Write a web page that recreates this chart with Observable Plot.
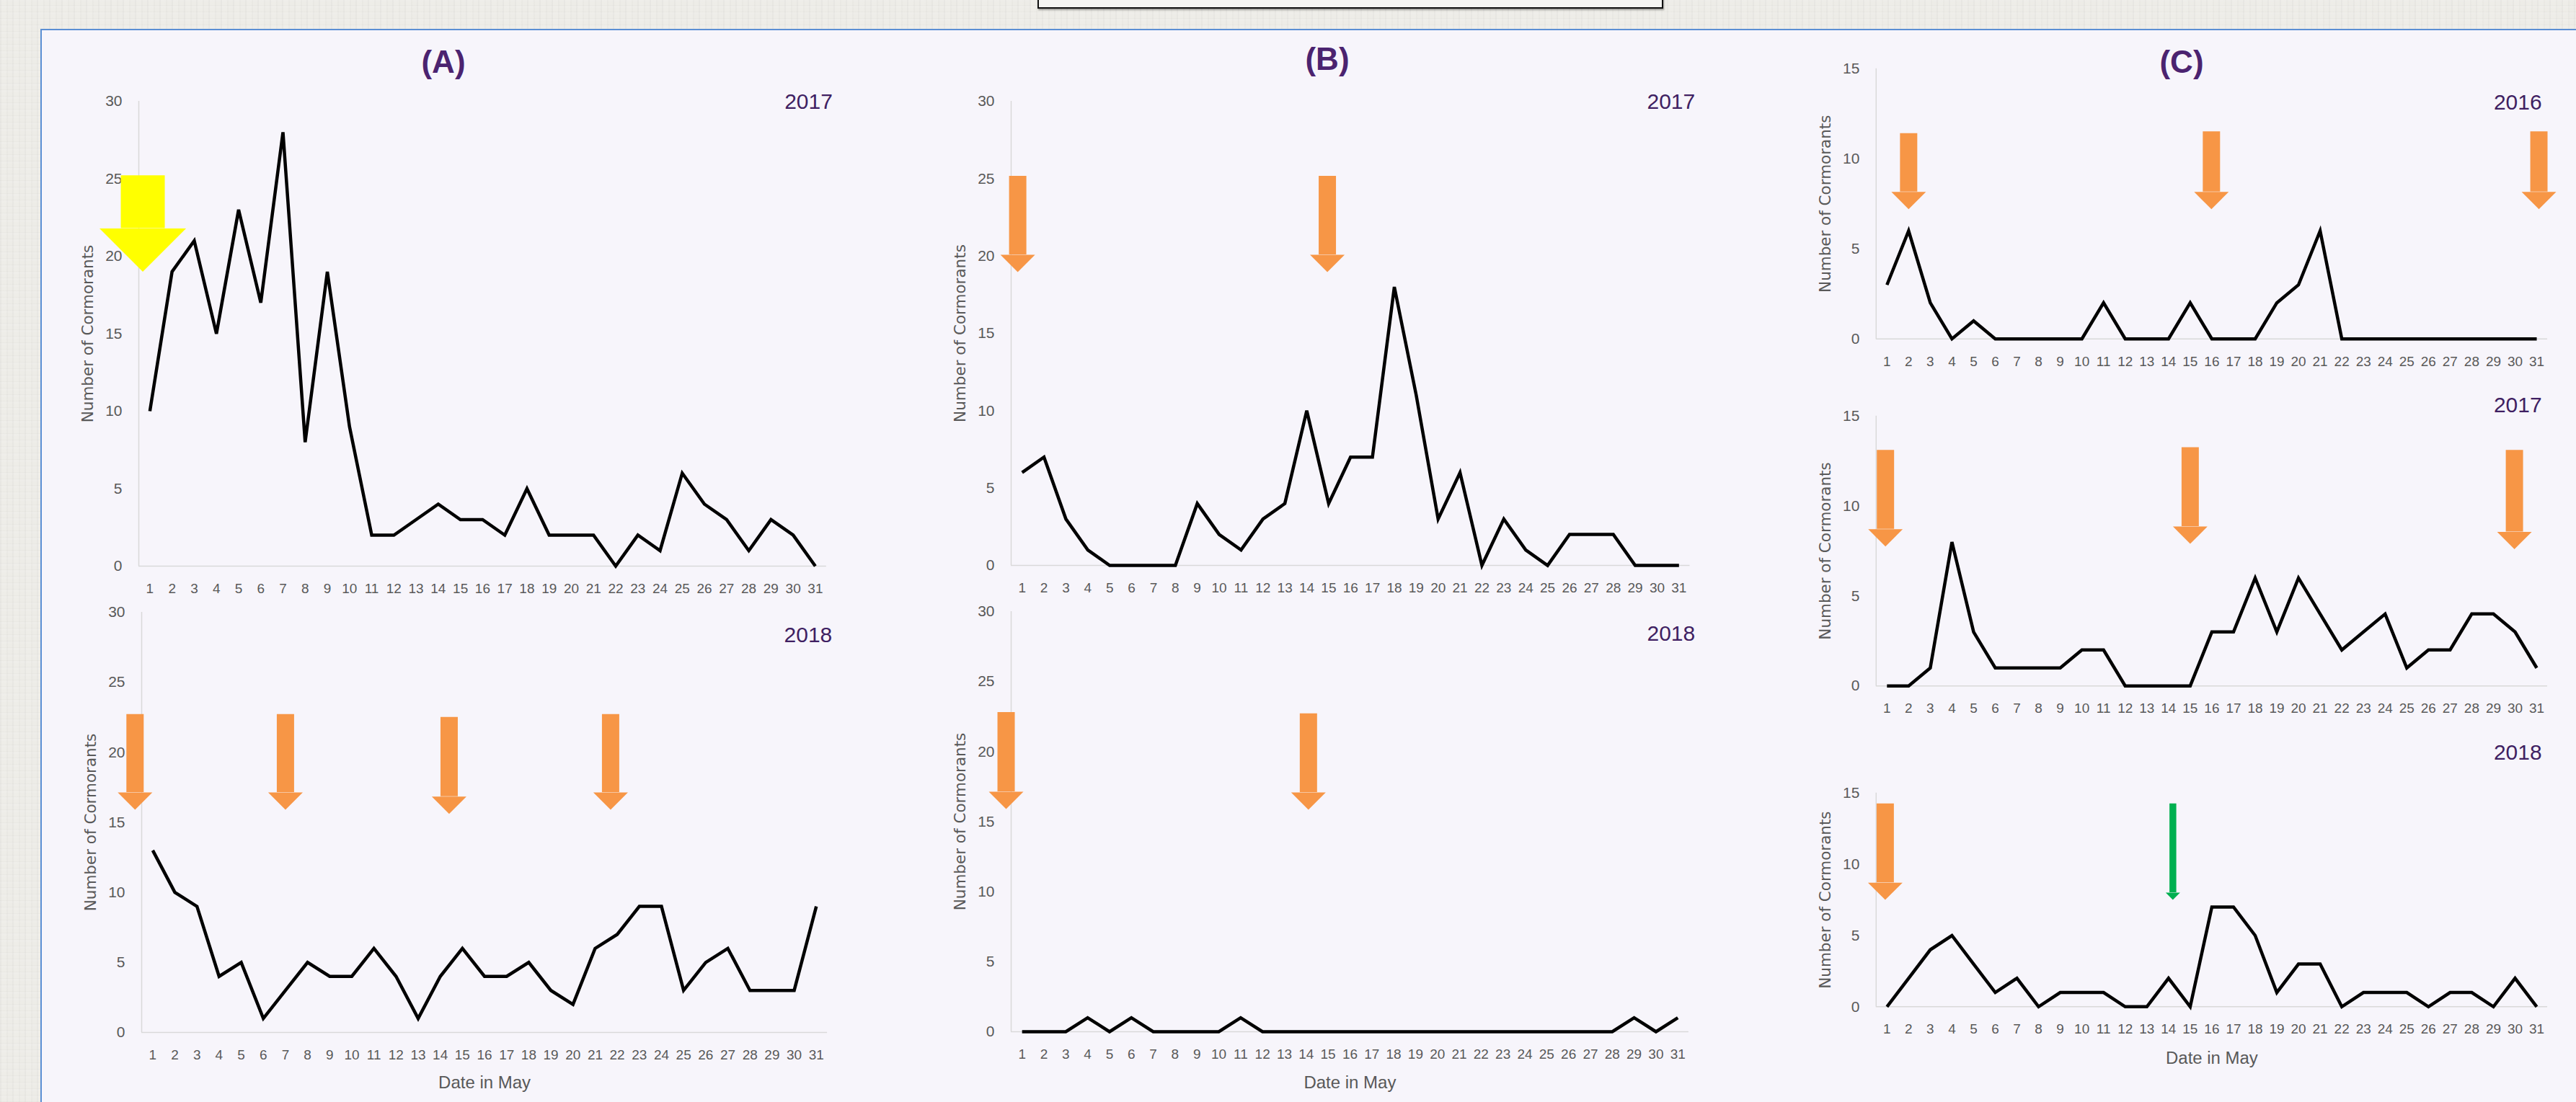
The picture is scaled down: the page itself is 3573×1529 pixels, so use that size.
<!DOCTYPE html>
<html>
<head>
<meta charset="utf-8">
<script src="https://cdn.jsdelivr.net/npm/d3@7"></script>
<script src="https://cdn.jsdelivr.net/npm/@observablehq/plot@0.6"></script>
<style>
  html, body { margin: 0; padding: 0; }
  body {
    width: 3573px; height: 1529px; overflow: hidden; position: relative;
    background-color: #edece7;
    background-image:
      repeating-linear-gradient(90deg, rgba(0,0,0,0.025) 0 2px, rgba(255,255,255,0.05) 2px 9px, rgba(0,0,0,0.015) 9px 11px, transparent 11px 17px),
      repeating-linear-gradient(0deg, rgba(0,0,0,0.02) 0 1px, transparent 1px 6px, rgba(255,255,255,0.08) 6px 9px);
    font-family: "Liberation Sans", Arial, sans-serif;
  }
  #topbox {
    position: absolute; left: 1439px; top: -6px; width: 864px; height: 14px;
    background: #f4f4f2; border: 2px solid #111; box-shadow: 1px 2px 2px rgba(0,0,0,0.35);
  }
  #board {
    position: absolute; left: 56px; top: 40px; right: -10px; bottom: -10px;
    background: #f7f5fb; border-left: 2px solid #5b8fd4; border-top: 2px solid #5b8fd4;
  }
  .ptitle {
    position: absolute; transform: translate(-50%, -50%);
    font: bold 44px "Liberation Sans", Arial, sans-serif; color: #4b2370; white-space: nowrap;
  }
  .panel { position: absolute; }
  .panel svg { overflow: visible; }
  .panel svg [aria-label^="x-axis"] text { font-size: 19px !important; }
  .panel svg [aria-label^="y-axis"] text { font-size: 21px !important; }
</style>
</head>
<body>
<div id="topbox"></div>
<div id="board"></div>
<div id="root"></div>
<script>
// ---------------- data ----------------
const days = [1,2,3,4,5,6,7,8,9,10,11,12,13,14,15,16,17,18,19,20,21,22,23,24,25,26,27,28,29,30,31];
const yTicks30 = [0,5,10,15,20,25,30];
const yTicks15 = [0,5,10,15];

const countsA2017 = [10,19,21,15,23,17,28,8,19,9,2,2,3,4,3,3,2,5,2,2,2,0,2,1,6,4,3,1,3,2,0];
const countsA2018 = [13,10,9,4,5,1,3,5,4,4,6,4,1,4,6,4,4,5,3,2,6,7,9,9,3,5,6,3,3,3,9];
const countsB2017 = [6,7,3,1,0,0,0,0,4,2,1,3,4,10,4,7,7,18,11,3,6,0,3,1,0,2,2,2,0,0,0];
const countsB2018 = [0,0,0,1,0,1,0,0,0,0,1,0,0,0,0,0,0,0,0,0,0,0,0,0,0,0,0,0,1,0,1];
const countsC2016 = [3,6,2,0,1,0,0,0,0,0,2,0,0,0,2,0,0,0,2,3,6,0,0,0,0,0,0,0,0,0,0];
const countsC2017 = [0,0,1,8,3,1,1,1,1,2,2,0,0,0,0,3,3,6,3,6,4,2,3,4,1,2,2,4,4,3,1];
const countsC2018 = [0,2,4,5,3,1,2,0,1,1,1,0,0,2,0,7,7,5,1,3,3,0,1,1,1,0,1,1,0,2,0];

// event arrows: day, top value, tip value, kind
const arrowsA2017 = [{day: 0.68, top: 25.2, tip: 19.0, kind: "yellow"}];
const arrowsA2018 = [
  {day: 0.2, top: 22.7, tip: 15.9, kind: "orange"},
  {day: 7.0, top: 22.7, tip: 15.9, kind: "orange"},
  {day: 14.4, top: 22.5, tip: 15.6, kind: "orange"},
  {day: 21.7, top: 22.7, tip: 15.9, kind: "orange"}
];
const arrowsB2017 = [
  {day: 0.8, top: 25.15, tip: 18.96, kind: "orange"},
  {day: 14.94, top: 25.15, tip: 18.96, kind: "orange"}
];
const arrowsB2018 = [
  {day: 0.27, top: 22.8, tip: 15.9, kind: "orange"},
  {day: 14.1, top: 22.7, tip: 15.85, kind: "orange"}
];
const arrowsC2016 = [
  {day: 2.0, top: 11.4, tip: 7.2, kind: "orange"},
  {day: 15.98, top: 11.5, tip: 7.2, kind: "orange"},
  {day: 31.1, top: 11.5, tip: 7.2, kind: "orange"}
];
const arrowsC2017 = [
  {day: 0.93, top: 13.1, tip: 7.75, kind: "orange"},
  {day: 15.0, top: 13.25, tip: 7.9, kind: "orange"},
  {day: 29.97, top: 13.1, tip: 7.6, kind: "orange"}
];
const arrowsC2018 = [
  {day: 0.92, top: 14.25, tip: 7.5, kind: "orange"},
  {day: 14.2, top: 14.25, tip: 7.5, kind: "green"}
];

const panelTitles = ["(A)", "(B)", "(C)"];
const yTitle = "Number of Cormorants";
const xTitle = "Date in May";

// ---------------- layout & style ----------------
const arrowStyle = {
  orange: {fill: "#f79646", shaft: 24, head: 48, headLen: 24},
  yellow: {fill: "#ffff00", shaft: 61, head: 120, headLen: 60},
  green:  {fill: "#00b050", shaft: 9.5, head: 20, headLen: 10}
};

const panels = [
  {counts: countsA2017, arrows: arrowsA2017, year: "2017", yMax: 30, left: 191.6, right: 1145.4, top: 140, bottom: 785, yearRight: 1154, yearY: 141},
  {counts: countsA2018, arrows: arrowsA2018, year: "2018", yMax: 30, left: 196.2, right: 1147.3, top: 849, bottom: 1432, yearRight: 1154, yearY: 881, xTitleY: 1502},
  {counts: countsB2017, arrows: arrowsB2017, year: "2017", yMax: 30, left: 1402.3, right: 2343.8, top: 140, bottom: 784, yearRight: 2351, yearY: 141},
  {counts: countsB2018, arrows: arrowsB2018, year: "2018", yMax: 30, left: 1402.3, right: 2342.2, top: 848, bottom: 1431, yearRight: 2351, yearY: 878.5, xTitleY: 1502},
  {counts: countsC2016, arrows: arrowsC2016, year: "2016", yMax: 15, left: 2602, right: 3535, top: 95, bottom: 470.5, yearRight: 3527, yearY: 142},
  {counts: countsC2017, arrows: arrowsC2017, year: "2017", yMax: 15, left: 2602, right: 3535, top: 576.7, bottom: 951.7, yearRight: 3527, yearY: 562},
  {counts: countsC2018, arrows: arrowsC2018, year: "2018", yMax: 15, left: 2602, right: 3535, top: 1100, bottom: 1397, yearRight: 3527, yearY: 1043.5, xTitleY: 1469}
];
const titlePos = [[615, 86], [1841, 82], [3026, 86]];

const ML = 130, MR = 40, MT = 70, MB = 100;
const root = document.getElementById("root");

function headSymbol(w, h) {
  return {draw(ctx) { ctx.moveTo(0, 0); ctx.lineTo(-w / 2, -h); ctx.lineTo(w / 2, -h); ctx.closePath(); }};
}

panelTitles.forEach((t, i) => {
  const d = document.createElement("div");
  d.className = "ptitle";
  d.textContent = t;
  d.style.left = titlePos[i][0] + "px";
  d.style.top = titlePos[i][1] + "px";
  document.body.appendChild(d);
});

for (const p of panels) {
  const W = ML + (p.right - p.left) + MR;
  const H = MT + (p.bottom - p.top) + MB;
  const arrowMarks = [];
  for (const kind of ["orange", "yellow", "green"]) {
    const list = p.arrows.filter(a => a.kind === kind);
    if (!list.length) continue;
    const s = arrowStyle[kind];
    arrowMarks.push(
      Plot.ruleX(list, {x: "day", y1: "top", y2: "tip", insetBottom: s.headLen, stroke: s.fill, strokeWidth: s.shaft, ariaLabel: "arrow"}),
      Plot.dot(list, {x: "day", y: "tip", symbol: headSymbol(s.head, s.headLen), fill: s.fill, stroke: "none", ariaLabel: "arrow"})
    );
  }
  const chart = Plot.plot({
    width: W, height: H,
    marginLeft: ML, marginRight: MR, marginTop: MT, marginBottom: MB,
    style: {background: "transparent", color: "#595959", fontFamily: '"Liberation Sans", Arial, sans-serif', fontSize: "20px", overflow: "visible"},
    x: {domain: [0.5, 31.5], ticks: days, tickSize: 0, tickPadding: 24, tickFormat: d => String(d), label: null},
    y: {domain: [0, p.yMax], ticks: p.yMax === 30 ? yTicks30 : yTicks15, tickSize: 0, tickPadding: 23, label: null},
    marks: [
      Plot.ruleY([0], {stroke: "#d9d9d9", strokeWidth: 1.5}),
      Plot.ruleX([0.5], {stroke: "#d9d9d9", strokeWidth: 1.5}),
      Plot.line(days, {x: d => d, y: (d, i) => p.counts[i], stroke: "#000", strokeWidth: 4.5, strokeLinejoin: "miter", strokeMiterlimit: 4, strokeLinecap: "butt"}),
      ...arrowMarks,
      Plot.text([p.year], {frameAnchor: "top-right", textAnchor: "end", lineAnchor: "middle", dx: p.yearRight - p.right, dy: p.yearY - p.top, fill: "#3f1f62", fontSize: 30}),
      Plot.text([yTitle], {frameAnchor: "left", rotate: -90, textAnchor: "middle", lineAnchor: "middle", dx: -70, fill: "#595959", fontSize: 21.5, fontFamily: '"DejaVu Sans", sans-serif'}),
      p.xTitleY ? Plot.text([xTitle], {frameAnchor: "bottom", textAnchor: "middle", lineAnchor: "middle", dy: p.xTitleY - p.bottom, fill: "#595959", fontSize: 24}) : null
    ]
  });
  chart.querySelectorAll('[aria-label="arrow"]').forEach(g => { g.style.filter = "drop-shadow(3px 4px 3px rgba(0,0,0,0.3))"; });
  const wrap = document.createElement("div");
  wrap.className = "panel";
  wrap.style.left = (p.left - ML) + "px";
  wrap.style.top = (p.top - MT) + "px";
  wrap.appendChild(chart);
  root.appendChild(wrap);
}
</script>
</body>
</html>
